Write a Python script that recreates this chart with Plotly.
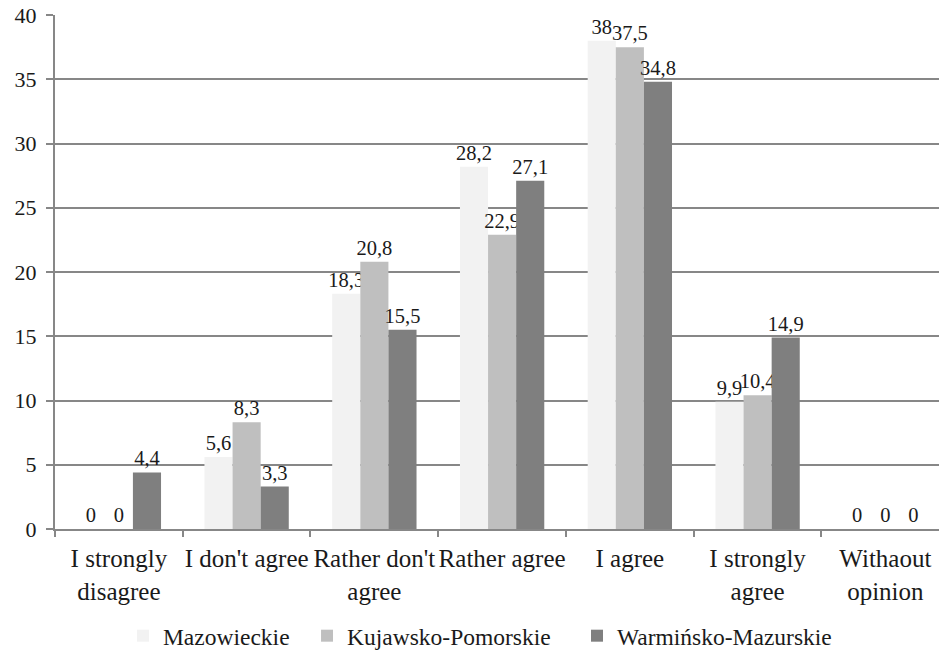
import plotly.graph_objects as go

categories = ["I strongly<br>disagree", "I don't agree", "Rather don't<br>agree", "Rather agree",
              "I agree", "I strongly<br>agree", "Withaout<br>opinion"]
series_names = ["Mazowieckie", "Kujawsko-Pomorskie", "Warmińsko-Mazurskie"]
mazowieckie = [0, 5.6, 18.3, 28.2, 38, 9.9, 0]
kujawsko = [0, 8.3, 20.8, 22.9, 37.5, 10.4, 0]
warminsko = [4.4, 3.3, 15.5, 27.1, 34.8, 14.9, 0]
colors = ["#f2f2f2", "#bfbfbf", "#7f7f7f"]
y_ticks = [0, 5, 10, 15, 20, 25, 30, 35, 40]

FONT = "Liberation Serif"
GRID = "#878787"
TXT = "#1a1a1a"
legend_ids = ["legend", "legend2", "legend3"]
legend_x = [0.0769, 0.2851, 0.5905]


def fmt(v):
    return ("%g" % v).replace(".", ",")


fig = go.Figure()
for name, vals, col, lg in zip(series_names, [mazowieckie, kujawsko, warminsko], colors, legend_ids):
    fig.add_trace(go.Bar(
        x=list(range(len(categories))), y=vals, name=name,
        marker=dict(color=col, line=dict(width=0)),
        text=[fmt(v) for v in vals], textposition="outside",
        textfont=dict(family=FONT, size=20.5, color=TXT),
        constraintext="none", cliponaxis=False, legend=lg,
    ))

legend_common = dict(orientation="h", xanchor="left", y=-0.208, yanchor="middle",
                     font=dict(family=FONT, size=23.5, color=TXT), itemwidth=30,
                     bgcolor="rgba(0,0,0,0)")
fig.update_layout(
    width=939, height=652,
    margin=dict(l=55, r=0, t=15, b=123, autoexpand=False),
    paper_bgcolor="white", plot_bgcolor="white",
    barmode="group", bargap=0.34, bargroupgap=0,
    font=dict(family=FONT, size=22, color=TXT),
    showlegend=True,
    legend=dict(x=legend_x[0], **legend_common),
    legend2=dict(x=legend_x[1], **legend_common),
    legend3=dict(x=legend_x[2], **legend_common),
)
fig.update_xaxes(
    tickmode="array", tickvals=list(range(len(categories))), ticktext=categories,
    range=[-0.5, 6.42], showgrid=False, showline=True, linecolor=GRID, linewidth=2,
    ticks="", zeroline=False, automargin=False, ticklabelstandoff=6,
    ticklabeloverflow="allow",
    tickfont=dict(family=FONT, size=25, color=TXT),
)
fig.update_xaxes(minor=dict(tickmode="array", tickvals=[i + 0.5 for i in range(-1, 7)],
                            ticks="outside", ticklen=6, tickcolor=GRID, tickwidth=1.5, showgrid=False))
fig.update_yaxes(
    range=[0, 40], tickvals=y_ticks, showgrid=True, gridcolor=GRID, gridwidth=1.5,
    showline=True, linecolor=GRID, linewidth=2, zeroline=False, automargin=False,
    ticks="outside", ticklen=7, tickcolor=GRID, tickwidth=1.5, ticklabelstandoff=5,
    ticklabeloverflow="allow",
    tickfont=dict(family=FONT, size=22, color=TXT),
)

fig.write_html("out.html", config={"displayModeBar": False},
               post_script="document.body.style.margin='0';")
